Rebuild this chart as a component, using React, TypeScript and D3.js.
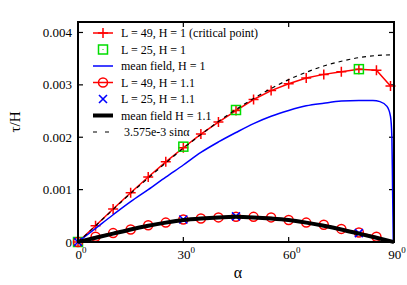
import React from 'react';
import * as d3 from 'd3';

// L = 49, H = 1 (critical point)
const critAngles = [0, 5, 10, 15, 20, 25, 30, 35, 40, 45, 50, 55, 60, 65, 70, 75, 80, 85, 89];
const critTau = [0, 0.00031, 0.00063, 0.00094, 0.00124, 0.00153, 0.0018, 0.00206, 0.00229, 0.00251, 0.00272, 0.00289, 0.00302, 0.00313, 0.0032, 0.00325, 0.0033, 0.00328, 0.00298];

// L = 25, H = 1
const l25h1Angles = [0, 30, 45, 80];
const l25h1Tau = [0, 0.00182, 0.00252, 0.0033];

// mean field, H = 1
const mfAngles = [0, 5, 10, 15, 20, 25, 30, 35, 40, 45, 50, 55, 60, 65, 70, 75, 80, 84, 86, 88, 89, 89.4, 89.6, 89.8];
const mfTau = [0, 0.00026, 0.00052, 0.00077, 0.001, 0.00124, 0.00147, 0.00171, 0.00191, 0.00209, 0.00226, 0.0024, 0.00251, 0.0026, 0.00265, 0.00269, 0.0027, 0.0027, 0.00268, 0.00259, 0.0024, 0.002, 0.001, 0];

// L = 49, H = 1.1
const h11Angles = [0, 5, 10, 15, 20, 25, 30, 35, 40, 45, 50, 55, 60, 65, 70, 75, 80, 85];
const h11Tau = [0, 0.0001, 0.00017, 0.00024, 0.00032, 0.00037, 0.00043, 0.00045, 0.00047, 0.00048, 0.00048, 0.00047, 0.00042, 0.00037, 0.00033, 0.00025, 0.00018, 0.0001];

// L = 25, H = 1.1
const l25h11Angles = [0, 30, 45, 80];
const l25h11Tau = [0, 0.00043, 0.00049, 0.00017];

// mean field H = 1.1
const mf11Angles = [0, 5, 10, 15, 20, 25, 30, 35, 40, 45, 50, 55, 60, 65, 70, 75, 80, 85, 90];
const mf11Tau = [0, 0.00008, 0.00016, 0.00024, 0.00031, 0.00037, 0.00042, 0.00045, 0.00047, 0.00048, 0.00047, 0.00045, 0.00042, 0.00037, 0.00031, 0.00024, 0.00016, 0.00008, 0];

// 3.575e-3 sin(alpha)
const sinAngles = [0, 5, 10, 15, 20, 25, 30, 35, 40, 45, 50, 55, 60, 65, 70, 75, 80, 85, 90];
const sinTau = [0, 0.00031, 0.00062, 0.00093, 0.00122, 0.00151, 0.00179, 0.00205, 0.0023, 0.00253, 0.00274, 0.00293, 0.0031, 0.00324, 0.00336, 0.00345, 0.00352, 0.00356, 0.003575];

const xTicks = [0, 30, 60, 90];
const yTicks = [0, 0.001, 0.002, 0.003, 0.004];
const yTickLabels = ['0', '0.001', '0.002', '0.003', '0.004'];

const legendLabels = [
  'L = 49, H = 1 (critical point)',
  'L = 25, H = 1',
  'mean field, H = 1',
  'L = 49, H = 1.1',
  'L = 25, H = 1.1',
  'mean field H = 1.1',
  '3.575e-3 sinα',
];

const width = 407;
const height = 285;
const margin = { left: 78, right: 13, top: 22, bottom: 43 };
const font = "'Liberation Serif', 'DejaVu Serif', serif";

type Pt = [number, number];
const zip = (a: number[], b: number[]): Pt[] => a.map((v, i) => [v, b[i]]);

const Plus = ({ x, y, c }: { x: number; y: number; c: string }) => (
  <path d={`M${x - 5},${y}H${x + 5}M${x},${y - 5}V${y + 5}`} stroke={c} strokeWidth={1.5} fill="none" />
);
const Cross = ({ x, y }: { x: number; y: number }) => (
  <path d={`M${x - 4},${y - 4}L${x + 4},${y + 4}M${x - 4},${y + 4}L${x + 4},${y - 4}`} stroke="#0000ff" strokeWidth={1.6} fill="none" />
);
const Square = ({ x, y }: { x: number; y: number }) => (
  <g>
    <rect x={x - 4.5} y={y - 4.5} width={9} height={9} stroke="#00dd00" strokeWidth={1.5} fill="none" />
    <rect x={x - 0.5} y={y - 0.5} width={1} height={1} fill="#00dd00" />
  </g>
);
const Circle = ({ x, y }: { x: number; y: number }) => (
  <circle cx={x} cy={y} r={4.5} stroke="#ff0000" strokeWidth={1.5} fill="none" />
);

const App: React.FC = () => {
  const x = d3.scaleLinear().domain([0, 90]).range([margin.left, width - margin.right]);
  const y = d3.scaleLinear().domain([0, 0.0042]).range([height - margin.bottom, margin.top]);

  const straight = d3.line<Pt>().x((d) => x(d[0])).y((d) => y(d[1]));
  const smooth = d3.line<Pt>().x((d) => x(d[0])).y((d) => y(d[1])).curve(d3.curveMonotoneX);

  const crit = zip(critAngles, critTau);
  const l25h1 = zip(l25h1Angles, l25h1Tau);
  const mf = zip(mfAngles, mfTau);
  const h11 = zip(h11Angles, h11Tau);
  const l25h11 = zip(l25h11Angles, l25h11Tau);
  const mf11 = zip(mf11Angles, mf11Tau);
  const sinLine = zip(sinAngles, sinTau);

  const [x0, x1] = x.range();
  const [y0, y1] = y.range();

  const legX0 = 93;
  const legX1 = 113;
  const legMid = (legX0 + legX1) / 2;
  const legY = (i: number) => 33 + i * 16.5;

  return (
    <svg width={width} height={height} style={{ position: 'absolute', left: 0, top: 0, background: '#fff', fontFamily: font }}>
      <rect width={width} height={height} fill="#fff" />

      {/* ticks, inward on all sides */}
      {xTicks.map((t) => (
        <g key={`xt${t}`} stroke="#000" strokeWidth={1.2}>
          <line x1={x(t)} x2={x(t)} y1={y0} y2={y0 - 5} />
          <line x1={x(t)} x2={x(t)} y1={y1} y2={y1 + 5} />
        </g>
      ))}
      {yTicks.map((t) => (
        <g key={`yt${t}`} stroke="#000" strokeWidth={1.2}>
          <line x1={x0} x2={x0 + 5} y1={y(t)} y2={y(t)} />
          <line x1={x1} x2={x1 - 5} y1={y(t)} y2={y(t)} />
        </g>
      ))}

      {/* H = 1 */}
      <path d={straight(crit) ?? ''} stroke="#ff0000" strokeWidth={1.5} fill="none" />
      {crit.map((d, i) => <Plus key={`p${i}`} x={x(d[0])} y={y(d[1])} c="#ff0000" />)}
      {l25h1.map((d, i) => <Square key={`s${i}`} x={x(d[0])} y={y(d[1])} />)}
      <path d={smooth(mf) ?? ''} stroke="#0000ff" strokeWidth={1.5} fill="none" />

      {/* H = 1.1 */}
      <path d={straight(h11) ?? ''} stroke="#ff0000" strokeWidth={1.5} fill="none" />
      {h11.map((d, i) => <Circle key={`c${i}`} x={x(d[0])} y={y(d[1])} />)}
      {l25h11.map((d, i) => <Cross key={`x${i}`} x={x(d[0])} y={y(d[1])} />)}
      <path d={smooth(mf11) ?? ''} stroke="#000" strokeWidth={4} fill="none" />

      <path d={smooth(sinLine) ?? ''} stroke="#000" strokeWidth={1.2} strokeDasharray="4,4" fill="none" />

      {/* frame */}
      <rect x={x0} y={y1} width={x1 - x0} height={y0 - y1} fill="none" stroke="#000" strokeWidth={2} />

      {/* tick labels */}
      {yTicks.map((t, i) => (
        <text key={`yl${t}`} x={72} y={y(t)} dy="0.35em" textAnchor="end" fontSize={13}>
          {yTickLabels[i]}
        </text>
      ))}
      {xTicks.map((t) => (
        <text key={`xl${t}`} x={x(t) + 3} y={259} textAnchor="middle" fontSize={13}>
          {t}
          <tspan fontSize={9} dy={-6}>0</tspan>
        </text>
      ))}

      {/* axis titles */}
      <text x={238} y={278} textAnchor="middle" fontSize={16}>α</text>
      <text transform="translate(20,122) rotate(-90)" textAnchor="middle" fontSize={15}>τ/H</text>

      {/* legend */}
      <g fontSize={12}>
        <line x1={legX0} x2={legX1} y1={legY(0)} y2={legY(0)} stroke="#ff0000" strokeWidth={1.5} />
        <Plus x={legMid} y={legY(0)} c="#ff0000" />
        <Square x={legMid} y={legY(1)} />
        <line x1={legX0} x2={legX1} y1={legY(2)} y2={legY(2)} stroke="#0000ff" strokeWidth={1.5} />
        <line x1={legX0} x2={legX1} y1={legY(3)} y2={legY(3)} stroke="#ff0000" strokeWidth={1.5} />
        <Circle x={legMid} y={legY(3)} />
        <Cross x={legMid} y={legY(4)} />
        <line x1={legX0} x2={legX1} y1={legY(5)} y2={legY(5)} stroke="#000" strokeWidth={4} />
        <line x1={legX0} x2={legX1} y1={legY(6)} y2={legY(6)} stroke="#000" strokeWidth={1.2} strokeDasharray="4,8" />
        {legendLabels.map((l, i) => (
          <text key={l} x={i === 6 ? 124 : 121} y={legY(i)} dy="0.35em">{l}</text>
        ))}
      </g>
    </svg>
  );
};

export default App;
